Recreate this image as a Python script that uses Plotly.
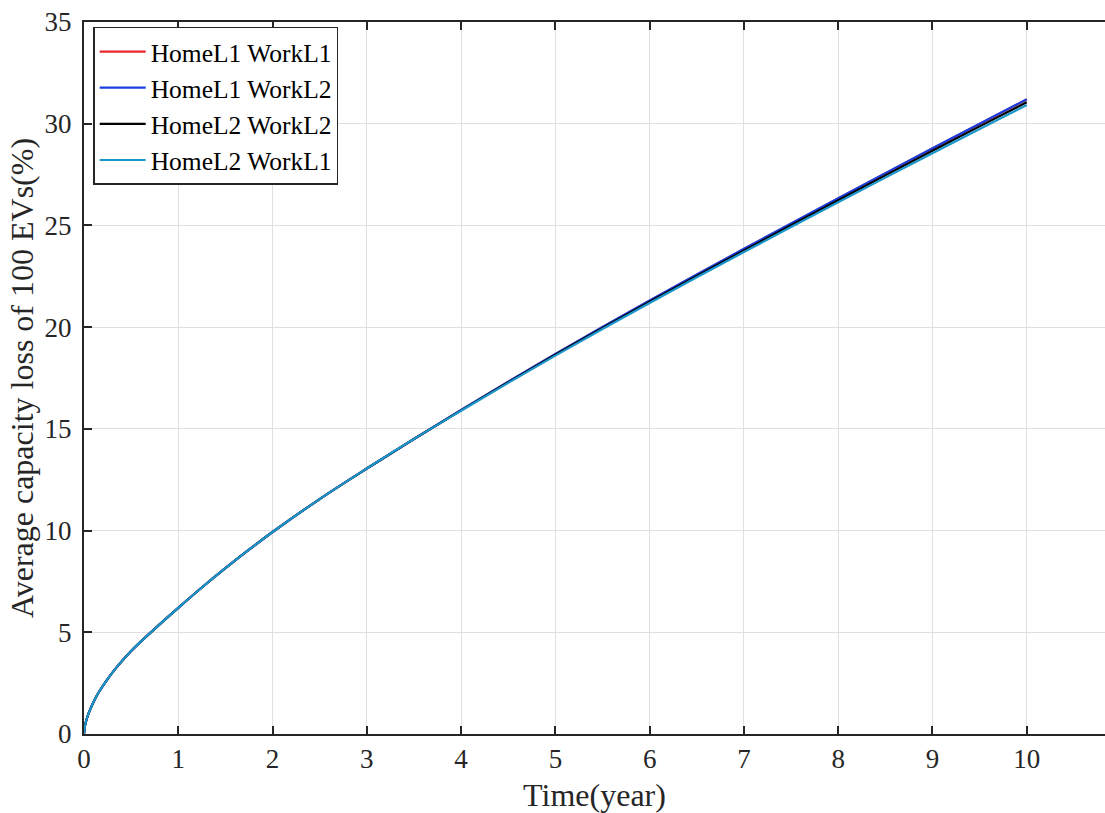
import plotly.graph_objects as go

time_years = [0, 0.01, 0.025, 0.05, 0.1, 0.15, 0.25, 0.35, 0.5, 0.75, 1, 1.25, 1.5, 1.75, 2, 2.5,
              3, 3.5, 4, 4.5, 5, 5.5, 6, 6.5, 7, 7.5, 8, 8.5, 9, 9.5, 10]

home_l1_work_l1 = [0, 0.39, 0.68, 1.03, 1.56, 2.0, 2.7, 3.3, 4.08, 5.17, 6.2, 7.2, 8.15, 9.06, 9.93, 11.55,
                   13.05, 14.5, 15.92, 17.31, 18.67, 20.0, 21.3, 22.58, 23.84, 25.09, 26.33, 27.56, 28.78, 29.99, 31.19]
home_l1_work_l2 = [0, 0.39, 0.68, 1.03, 1.56, 2.0, 2.7, 3.3, 4.08, 5.17, 6.2, 7.2, 8.15, 9.06, 9.93, 11.55,
                   13.05, 14.5, 15.93, 17.32, 18.68, 20.01, 21.31, 22.59, 23.85, 25.1, 26.34, 27.57, 28.79, 30.0, 31.2]
home_l2_work_l2 = [0, 0.39, 0.68, 1.03, 1.56, 2.0, 2.7, 3.3, 4.08, 5.17, 6.2, 7.2, 8.15, 9.06, 9.93, 11.55,
                   13.05, 14.5, 15.91, 17.29, 18.64, 19.96, 21.25, 22.52, 23.77, 25.01, 26.24, 27.46, 28.67, 29.87, 31.06]
home_l2_work_l1 = [0, 0.39, 0.68, 1.03, 1.56, 2.0, 2.7, 3.3, 4.08, 5.17, 6.2, 7.2, 8.15, 9.06, 9.93, 11.55,
                   13.05, 14.5, 15.89, 17.26, 18.6, 19.91, 21.19, 22.45, 23.69, 24.92, 26.14, 27.35, 28.55, 29.74, 30.92]

series_names = ["HomeL1 WorkL1", "HomeL1 WorkL2", "HomeL2 WorkL2", "HomeL2 WorkL1"]
series_values = [home_l1_work_l1, home_l1_work_l2, home_l2_work_l2, home_l2_work_l1]
series_colors = ["#e8262a", "#1a3fe0", "#000000", "#1b97cc"]

x_ticks = list(range(0, 11))
y_ticks = list(range(0, 36, 5))

font_family = "Liberation Serif, Times New Roman, serif"

fig = go.Figure()
for name, vals, col in zip(series_names, series_values, series_colors):
    fig.add_trace(go.Scatter(x=time_years, y=vals, name=name, mode="lines",
                             line=dict(color=col, width=2.2, shape="spline", smoothing=1.0)))

axis_color = "#262626"
fig.update_layout(
    width=1105, height=813,
    margin=dict(l=84, r=0, t=22, b=79),
    paper_bgcolor="white", plot_bgcolor="white",
    font=dict(family=font_family, color="#262626", size=27),
    showlegend=True,
    legend=dict(x=0.009, y=0.993, xanchor="left", yanchor="top",
                bgcolor="white", bordercolor="#262626", borderwidth=1.5,
                font=dict(family=font_family, size=25.5, color="#000000"),
                tracegroupgap=0, itemwidth=46),
)
fig.update_xaxes(
    range=[0, 10.83], tickvals=x_ticks, ticktext=[str(t) for t in x_ticks],
    showgrid=True, gridcolor="#e0e0e0", gridwidth=1.2,
    showline=True, linecolor=axis_color, linewidth=2, mirror="ticks",
    ticks="inside", ticklen=8, tickwidth=2, tickcolor=axis_color,
    zeroline=False, ticklabeloverflow="allow",
    tickfont=dict(size=27, family=font_family, color="#262626"),
    title=dict(text="Time(year)", font=dict(size=32, family=font_family, color="#262626"), standoff=12),
)
fig.update_yaxes(
    range=[0, 35], tickvals=y_ticks, ticktext=[str(t) for t in y_ticks],
    showgrid=True, gridcolor="#e0e0e0", gridwidth=1.2,
    showline=True, linecolor=axis_color, linewidth=2,
    ticks="inside", ticklen=8, tickwidth=2, tickcolor=axis_color,
    zeroline=False, ticklabeloverflow="allow", ticklabelstandoff=5,
    tickfont=dict(size=27, family=font_family, color="#262626"),
    title=dict(text="Average capacity loss of 100 EVs(%)", font=dict(size=32, family=font_family, color="#262626"), standoff=1),
)

fig.write_html("out.html",
               config={"displayModeBar": False},
               post_script="document.body.style.margin='0';document.body.style.overflow='hidden';")
